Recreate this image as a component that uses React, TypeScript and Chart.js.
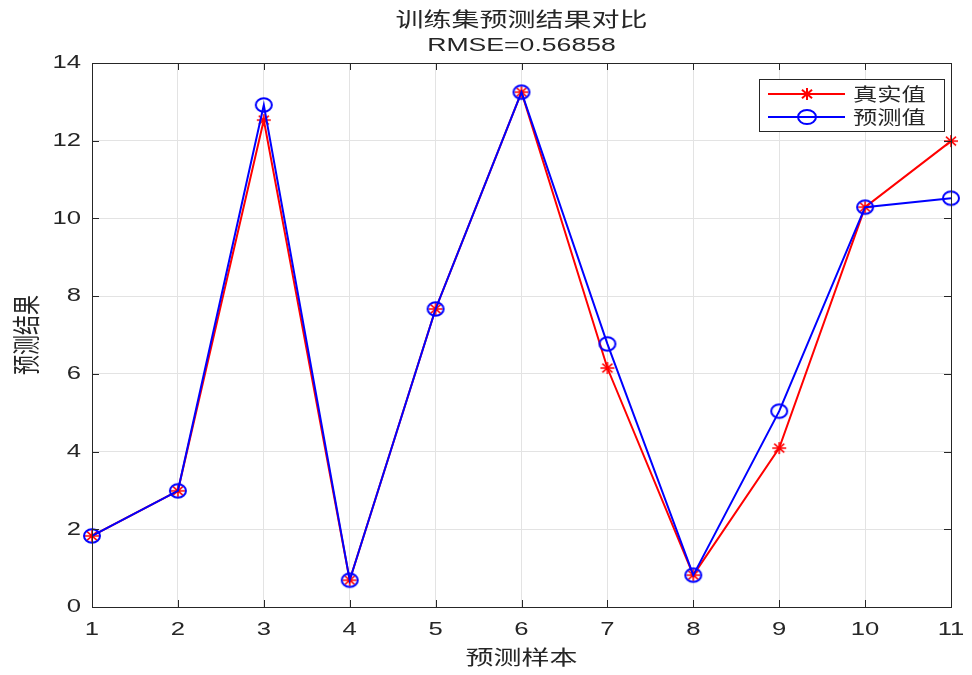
import React, { useEffect, useRef } from "react";
import { Chart, registerables } from "chart.js";

Chart.register(...registerables);

const samples = [1, 2, 3, 4, 5, 6, 7, 8, 9, 10, 11];
const trueValues = [1.83, 2.99, 12.53, 0.69, 7.67, 13.25, 6.15, 0.82, 4.09, 10.29, 11.99];
const predValues = [1.83, 2.99, 12.92, 0.69, 7.67, 13.25, 6.77, 0.82, 5.04, 10.29, 10.52];
const yTicks = [0, 2, 4, 6, 8, 10, 12, 14];
const titleLines = ["训练集预测结果对比", "RMSE=0.56858"];
const xTitle = "预测样本";
const yTitle = "预测结果";
const legendLabels = ["真实值", "预测值"];

const AX = "#262626";
const CJK = '"Noto Sans CJK SC", "Noto Sans", sans-serif';
const LAT = '"Liberation Sans", Arial, sans-serif';
const SX = 1.4;

function drawText(ctx: CanvasRenderingContext2D, text: string, x: number, y: number, font: string, align: CanvasTextAlign, sx = SX) {
  ctx.save();
  ctx.translate(x, y);
  ctx.scale(sx, 1);
  ctx.font = font;
  ctx.textAlign = align;
  ctx.textBaseline = "middle";
  ctx.fillStyle = AX;
  ctx.fillText(text, 0, 0);
  ctx.restore();
}

function makeStar(color: string, w: number, h: number, lw: number) {
  const c = document.createElement("canvas");
  c.width = w + 2;
  c.height = h + 2;
  const g = c.getContext("2d") as CanvasRenderingContext2D;
  const cx = c.width / 2, cy = c.height / 2, rx = w / 2, ry = h / 2;
  g.strokeStyle = color;
  g.lineWidth = lw;
  g.beginPath();
  g.moveTo(cx - rx, cy); g.lineTo(cx + rx, cy);
  g.moveTo(cx, cy - ry); g.lineTo(cx, cy + ry);
  const dx = rx * 0.72, dy = ry * 0.72;
  g.moveTo(cx - dx, cy - dy); g.lineTo(cx + dx, cy + dy);
  g.moveTo(cx - dx, cy + dy); g.lineTo(cx + dx, cy - dy);
  g.stroke();
  return c;
}

function makeEllipse(color: string, rx: number, ry: number, lw: number) {
  const c = document.createElement("canvas");
  c.width = Math.ceil(rx * 2 + lw + 2);
  c.height = Math.ceil(ry * 2 + lw + 2);
  const g = c.getContext("2d") as CanvasRenderingContext2D;
  g.strokeStyle = color;
  g.lineWidth = lw;
  g.beginPath();
  g.ellipse(c.width / 2, c.height / 2, rx, ry, 0, 0, Math.PI * 2);
  g.stroke();
  return c;
}

const decor = {
  id: "decor",
  afterDatasetsDraw(chart: any) {
    const { ctx, chartArea: a, scales } = chart;
    const xs = scales.x, ys = scales.y;
    ctx.save();
    ctx.strokeStyle = AX;
    ctx.lineWidth = 1;
    ctx.strokeRect(Math.round(a.left) + 0.5, Math.round(a.top) + 0.5, Math.round(a.right - a.left), Math.round(a.bottom - a.top));
    const tl = 7;
    ctx.beginPath();
    samples.forEach((v) => {
      const px = Math.round(xs.getPixelForValue(v)) + 0.5;
      ctx.moveTo(px, a.bottom); ctx.lineTo(px, a.bottom - tl);
      ctx.moveTo(px, a.top); ctx.lineTo(px, a.top + tl);
    });
    yTicks.forEach((v) => {
      const py = Math.round(ys.getPixelForValue(v)) + 0.5;
      ctx.moveTo(a.left, py); ctx.lineTo(a.left + tl, py);
      ctx.moveTo(a.right, py); ctx.lineTo(a.right - tl, py);
    });
    ctx.stroke();

    const tickFont = `19px ${LAT}`;
    samples.forEach((v) => {
      drawText(ctx, String(v), xs.getPixelForValue(v), a.bottom + 23, tickFont, "center", 1.35);
    });
    yTicks.forEach((v) => {
      drawText(ctx, String(v), a.left - 11, ys.getPixelForValue(v), tickFont, "right", 1.35);
    });

    const lx = 759, ly = 79, lw = 185, lh = 52;
    ctx.fillStyle = "#ffffff";
    ctx.fillRect(lx, ly, lw, lh);
    ctx.strokeStyle = AX;
    ctx.lineWidth = 1;
    ctx.strokeRect(lx + 0.5, ly + 0.5, lw, lh);
    const rows = [
      { y: ly + 15, color: "#ff0000", label: legendLabels[0], star: true },
      { y: ly + 38, color: "#0000ff", label: legendLabels[1], star: false },
    ];
    rows.forEach((r) => {
      ctx.strokeStyle = r.color;
      ctx.lineWidth = 2;
      ctx.beginPath();
      ctx.moveTo(lx + 9, r.y); ctx.lineTo(lx + 86, r.y);
      ctx.stroke();
      const cx = lx + 48;
      ctx.beginPath();
      if (r.star) {
        const sx = 7, sy = 6;
        ctx.moveTo(cx - sx, r.y); ctx.lineTo(cx + sx, r.y);
        ctx.moveTo(cx, r.y - sy); ctx.lineTo(cx, r.y + sy);
        ctx.moveTo(cx - sx * 0.72, r.y - sy * 0.72); ctx.lineTo(cx + sx * 0.72, r.y + sy * 0.72);
        ctx.moveTo(cx - sx * 0.72, r.y + sy * 0.72); ctx.lineTo(cx + sx * 0.72, r.y - sy * 0.72);
      } else {
        ctx.ellipse(cx, r.y, 9, 7, 0, 0, Math.PI * 2);
      }
      ctx.stroke();
      drawText(ctx, r.label, lx + 94, r.y, `18px ${CJK}`, "left", 1.35);
    });

    const cxp = (a.left + a.right) / 2;
    drawText(ctx, titleLines[0], cxp, 19, `20px ${CJK}`, "center");
    drawText(ctx, titleLines[1], cxp, 46, `19px ${LAT}`, "center");
    drawText(ctx, xTitle, cxp, 657, `20px ${CJK}`, "center");
    ctx.save();
    ctx.translate(26, (a.top + a.bottom) / 2);
    ctx.rotate(-Math.PI / 2);
    ctx.scale(1, SX);
    ctx.font = `20px ${CJK}`;
    ctx.textAlign = "center";
    ctx.textBaseline = "middle";
    ctx.fillStyle = AX;
    ctx.fillText(yTitle, 0, 0);
    ctx.restore();
    ctx.restore();
  },
};

export default function App() {
  const ref = useRef<HTMLCanvasElement | null>(null);
  useEffect(() => {
    document.body.style.margin = "0";
    const starImg = makeStar("#ff0000", 14, 12, 1.6);
    const circImg = makeEllipse("#0000ff", 8, 6.8, 2);
    const chart = new Chart(ref.current as HTMLCanvasElement, {
      type: "line",
      data: {
        datasets: [
          {
            label: legendLabels[0],
            data: samples.map((x, i) => ({ x, y: trueValues[i] })),
            borderColor: "#ff0000",
            backgroundColor: "#ff0000",
            borderWidth: 2,
            pointStyle: starImg,
            pointRadius: 7,
            fill: false,
            tension: 0,
            clip: false as any,
            order: 2,
          },
          {
            label: legendLabels[1],
            data: samples.map((x, i) => ({ x, y: predValues[i] })),
            borderColor: "#0000ff",
            backgroundColor: "rgba(0,0,0,0)",
            borderWidth: 2,
            pointStyle: circImg,
            pointRadius: 8,
            fill: false,
            tension: 0,
            clip: false as any,
            order: 1,
          },
        ],
      },
      options: {
        animation: false,
        responsive: false,
        layout: { padding: { top: 63, right: 21, left: 0, bottom: 0 } },
        plugins: { legend: { display: false }, title: { display: false }, tooltip: { enabled: false } },
        scales: {
          x: {
            type: "linear",
            min: 1,
            max: 11,
            afterFit: (s: any) => { s.height = 68; },
            afterBuildTicks: (s: any) => { s.ticks = samples.map((v) => ({ value: v })); },
            grid: { color: "#e3e3e3", drawTicks: false, lineWidth: 1 },
            border: { display: false },
            ticks: { display: false },
          },
          y: {
            type: "linear",
            min: 0,
            max: 14,
            afterFit: (s: any) => { s.width = 92; },
            afterBuildTicks: (s: any) => { s.ticks = yTicks.map((v) => ({ value: v })); },
            grid: { color: "#e3e3e3", drawTicks: false, lineWidth: 1 },
            border: { display: false },
            ticks: { display: false },
          },
        },
      },
      plugins: [decor],
    } as any);
    return () => chart.destroy();
  }, []);
  return (
    <div style={{ position: "absolute", left: 0, top: 0, width: 972, height: 675, background: "#fff" }}>
      <canvas ref={ref} width={972} height={675} />
    </div>
  );
}
